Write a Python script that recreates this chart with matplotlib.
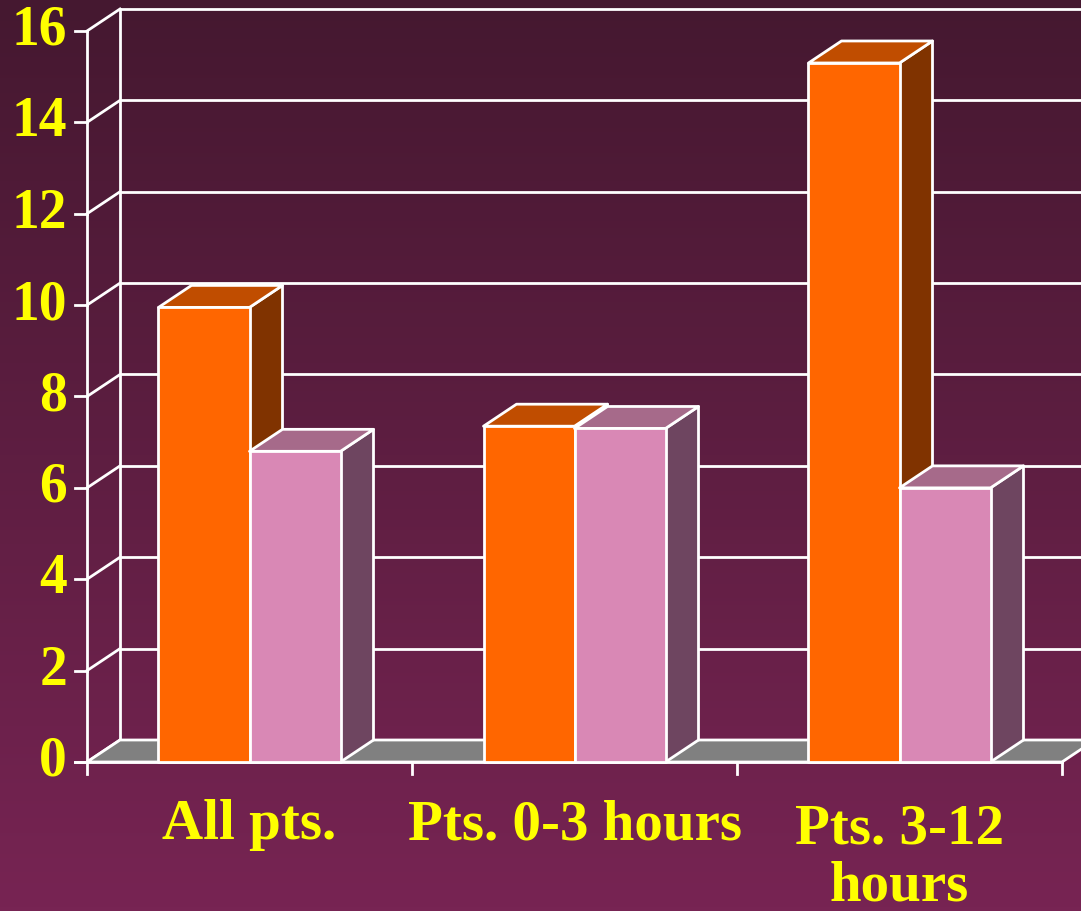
import numpy as np
import matplotlib
matplotlib.use("Agg")
import matplotlib.pyplot as plt
from matplotlib.patches import Polygon
from matplotlib.colors import LinearSegmentedColormap

# ---- data ----
categories = ["All pts.", "Pts. 0-3 hours", "Pts. 3-12\nhours"]
series_a = [9.95, 7.35, 15.3]   # orange
series_b = [6.8, 7.3, 6.0]      # pink
yticks = [0, 2, 4, 6, 8, 10, 12, 14, 16]

# ---- styles ----
W, H = 1081, 911
fig = plt.figure(figsize=(W / 100, H / 100), dpi=100)
ax = fig.add_axes([0, 0, 1, 1])
ax.set_axis_off()

x0_px, cat_px = 87.0, 325.0
y0_px, unit_px = 762.0, (762.0 - 31.0) / 16.0
ax.set_xlim((0 - x0_px) / cat_px, (W - x0_px) / cat_px)
ax.set_ylim((y0_px - H) / unit_px, y0_px / unit_px)

ddx = 33.0 / cat_px
ddy = 22.0 / unit_px
xmin, xmax = ax.get_xlim()
ymin, ymax = ax.get_ylim()

cmap = LinearSegmentedColormap.from_list("bg", ["#451830", "#772453"])
grad = np.linspace(0, 1, 256).reshape(-1, 1)
ax.imshow(grad, extent=[xmin, xmax, ymin, ymax], origin="upper", cmap=cmap,
          aspect="auto", zorder=0)

lw = 2.0
white = "white"
ymaxv = yticks[-1]
ncat = len(categories)

for t in yticks:
    ax.plot([ddx, xmax], [t + ddy, t + ddy], color=white, lw=lw, zorder=1,
            solid_capstyle="butt")
ax.plot([ddx, ddx], [ddy, ymaxv + ddy], color=white, lw=lw, zorder=1)
for t in yticks:
    ax.plot([0, ddx], [t, t + ddy], color=white, lw=lw, zorder=1)
ax.plot([0, 0], [0, ymaxv], color=white, lw=lw, zorder=1)
for t in yticks:
    ax.plot([-12 / cat_px, 0], [t, t], color=white, lw=lw, zorder=1)
    ax.text(-20 / cat_px, t, str(t), color="#FFFF00", fontsize=40,
            fontweight="bold", family="Liberation Serif", ha="right",
            va="center", zorder=5)

floor = Polygon([(0, 0), (ncat, 0), (ncat + ddx, ddy), (ddx, ddy)],
                closed=True, facecolor="#808080", edgecolor=white, lw=lw, zorder=2)
ax.add_patch(floor)

ax.plot([-12 / cat_px, ncat], [0, 0], color=white, lw=lw, zorder=2)
for i in range(ncat + 1):
    ax.plot([i, i], [0, -12 / unit_px], color=white, lw=lw, zorder=2)

orange = ("#FF6600", "#C04D00", "#803300")
pink = ("#D988B5", "#A66A8A", "#6E4560")
bw = 0.28


def bar3d(xl, v, cols, z):
    front = [(xl, 0), (xl + bw, 0), (xl + bw, v), (xl, v)]
    top = [(xl, v), (xl + bw, v), (xl + bw + ddx, v + ddy), (xl + ddx, v + ddy)]
    side = [(xl + bw, 0), (xl + bw + ddx, ddy), (xl + bw + ddx, v + ddy), (xl + bw, v)]
    for pts, c in ((side, cols[2]), (top, cols[1]), (front, cols[0])):
        ax.add_patch(Polygon(pts, closed=True, facecolor=c, edgecolor=white,
                             lw=lw, joinstyle="round", zorder=z))


z = 3
for i in range(ncat):
    bar3d(i + 0.5 - bw, series_a[i], orange, z)
    z += 1
    bar3d(i + 0.5, series_b[i], pink, z)
    z += 1

for i, lab in enumerate(categories):
    nlines = lab.count("\n") + 1
    ax.text(i + 0.5, -(63 + 33 * (nlines - 1)) / unit_px, lab, color="#FFFF00",
            fontsize=41, fontweight="bold", family="Liberation Serif",
            ha="center", va="center", linespacing=1.12, zorder=5)

fig.savefig("out.png", dpi=100)
